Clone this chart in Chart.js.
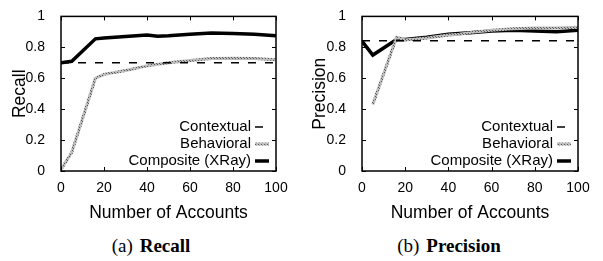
<!DOCTYPE html>
<html>
<head>
<meta charset="utf-8">
<script src="https://cdn.jsdelivr.net/npm/chart.js@4"></script>
<style>
  body { margin: 0; background: #fff; width: 603px; height: 261px; position: relative; overflow: hidden; }
  .panel { position: absolute; top: 0; height: 224px; }
  .caption { position: absolute; top: 235px; font-family: 'Liberation Serif', 'Times New Roman', serif; font-size: 19px; color: #000; white-space: nowrap; transform: translateX(-50%); }
  .caption b { margin-left: 7px; }
</style>
</head>
<body>
<div class="panel" style="left:0;width:300px"><canvas id="recall-chart" width="300" height="224"></canvas></div>
<div class="panel" style="left:300px;width:303px"><canvas id="precision-chart" width="303" height="224"></canvas></div>
<div class="caption" style="left:151px">(a)<b>Recall</b></div>
<div class="caption" style="left:449px">(b)<b>Precision</b></div>
<script>
// x values (number of accounts)
const accounts = [0, 5, 16, 20, 30, 40, 45, 50, 60, 70, 80, 90, 100];

// recall series
const recallContextual = [0.70, 0.70, 0.70, 0.70, 0.70, 0.70, 0.70, 0.70, 0.70, 0.70, 0.70, 0.70, 0.70];
const recallBehavioral = [0.01, 0.12, 0.60, 0.625, 0.65, 0.68, 0.69, 0.70, 0.715, 0.728, 0.73, 0.728, 0.72];
const recallComposite = [0.70, 0.71, 0.855, 0.86, 0.87, 0.88, 0.872, 0.875, 0.885, 0.893, 0.89, 0.885, 0.875];

// precision series
const precisionContextual = [0.842, 0.842, 0.842, 0.842, 0.842, 0.842, 0.842, 0.842, 0.842, 0.842, 0.842, 0.842, 0.842];
const precisionBehavioral = [null, 0.43, 0.865, 0.848, 0.86, 0.88, 0.885, 0.895, 0.91, 0.92, 0.925, 0.925, 0.93];
const precisionComposite = [0.84, 0.75, 0.85, 0.85, 0.865, 0.885, 0.89, 0.895, 0.905, 0.91, 0.905, 0.90, 0.91];

const seriesNames = ['Contextual', 'Behavioral', 'Composite (XRay)'];
const xTicks = [0, 20, 40, 60, 80, 100];
const yTicks = [0, 0.2, 0.4, 0.6, 0.8, 1];

const sans = "'Liberation Sans', Arial, sans-serif";

// gray speckled stroke for the behavioral line
function speckle() {
    const c = document.createElement('canvas');
    c.width = 3; c.height = 3;
    const g = c.getContext('2d');
    g.fillStyle = '#bdbdbd';
    g.fillRect(0, 0, 3, 3);
    g.fillStyle = '#5a5a5a';
    g.fillRect(0, 0, 1, 1);
    g.fillRect(1, 1, 1, 1);
    return g.createPattern(c, 'repeat');
}

function points(values) {
    return accounts.map((x, i) => ({ x: x, y: values[i] }));
}

// inward ticks on all four sides plus frame
const frameTicks = {
    id: 'frameTicks',
    afterDatasetsDraw(chart) {
        const ctx = chart.ctx;
        const a = chart.chartArea;
        const xs = chart.scales.x, ys = chart.scales.y;
        ctx.save();
        ctx.strokeStyle = '#000';
        ctx.lineWidth = 1;
        ctx.beginPath();
        xTicks.forEach(v => {
            const px = Math.round(xs.getPixelForValue(v)) + 0.5;
            ctx.moveTo(px, a.bottom); ctx.lineTo(px, a.bottom - 4);
            ctx.moveTo(px, a.top); ctx.lineTo(px, a.top + 4);
        });
        yTicks.forEach(v => {
            const py = Math.round(ys.getPixelForValue(v)) + 0.5;
            ctx.moveTo(a.left, py); ctx.lineTo(a.left + 4, py);
            ctx.moveTo(a.right, py); ctx.lineTo(a.right - 4, py);
        });
        ctx.stroke();
        ctx.lineWidth = 1.5;
        ctx.strokeRect(a.left, a.top, a.right - a.left, a.bottom - a.top);
        ctx.restore();
    }
};

// gnuplot style key: text right aligned, sample after it
const keyBox = {
    id: 'keyBox',
    afterDraw(chart) {
        const ctx = chart.ctx;
        const a = chart.chartArea;
        const rows = [a.bottom - 44, a.bottom - 27, a.bottom - 10];
        ctx.save();
        ctx.font = '15px ' + sans;
        ctx.textAlign = 'right';
        ctx.textBaseline = 'middle';
        chart.data.datasets.forEach((ds, i) => {
            ctx.fillStyle = '#000';
            ctx.fillText(ds.label, a.right - 25, rows[i]);
            ctx.strokeStyle = ds.borderColor;
            ctx.lineWidth = ds.borderWidth;
            ctx.setLineDash(ds.borderDash || []);
            ctx.beginPath();
            ctx.moveTo(a.right - 21, rows[i]);
            ctx.lineTo(a.right - 7, rows[i]);
            ctx.stroke();
            ctx.setLineDash([]);
        });
        ctx.restore();
    }
};

function makeChart(canvasId, yTitle, contextual, behavioral, composite, yWidth, rightPad) {
    return new Chart(document.getElementById(canvasId), {
        type: 'line',
        data: {
            datasets: [{
                label: seriesNames[0],
                data: points(contextual),
                borderColor: '#000',
                borderWidth: 1.5,
                borderDash: [8, 9]
            }, {
                label: seriesNames[1],
                data: points(behavioral),
                borderColor: speckle(),
                borderWidth: 3
            }, {
                label: seriesNames[2],
                data: points(composite),
                borderColor: '#000',
                borderWidth: 3.5
            }]
        },
        options: {
            responsive: false,
            animation: false,
            elements: { point: { radius: 0 }, line: { tension: 0 } },
            layout: { padding: { top: 6, right: rightPad, left: 0, bottom: 0 } },
            plugins: { legend: { display: false }, tooltip: { enabled: false } },
            scales: {
                x: {
                    type: 'linear',
                    min: 0,
                    max: 100,
                    afterFit: s => { s.height = 53; },
                    afterBuildTicks: s => { s.ticks = xTicks.map(v => ({ value: v })); },
                    grid: { display: false },
                    border: { display: false },
                    ticks: { color: '#000', font: { family: sans, size: 14 }, padding: 1, maxRotation: 0 },
                    title: { display: true, text: 'Number of Accounts', color: '#000', font: { family: sans, size: 17.5 }, padding: { top: 2, bottom: 0 } }
                },
                y: {
                    min: 0,
                    max: 1,
                    afterFit: s => { s.width = yWidth; },
                    afterBuildTicks: s => { s.ticks = yTicks.map(v => ({ value: v })); },
                    grid: { display: false },
                    border: { display: false },
                    ticks: { color: '#000', font: { family: sans, size: 14 }, padding: 8, callback: v => String(v) },
                    title: { display: true, text: yTitle, color: '#000', font: { family: sans, size: 17.5 }, padding: { top: 10, bottom: 0 } }
                }
            }
        },
        plugins: [frameTicks, keyBox]
    });
}

makeChart('recall-chart', 'Recall', recallContextual, recallBehavioral, recallComposite, 61, 24);
makeChart('precision-chart', 'Precision', precisionContextual, precisionBehavioral, precisionComposite, 62, 25);
</script>
</body>
</html>
